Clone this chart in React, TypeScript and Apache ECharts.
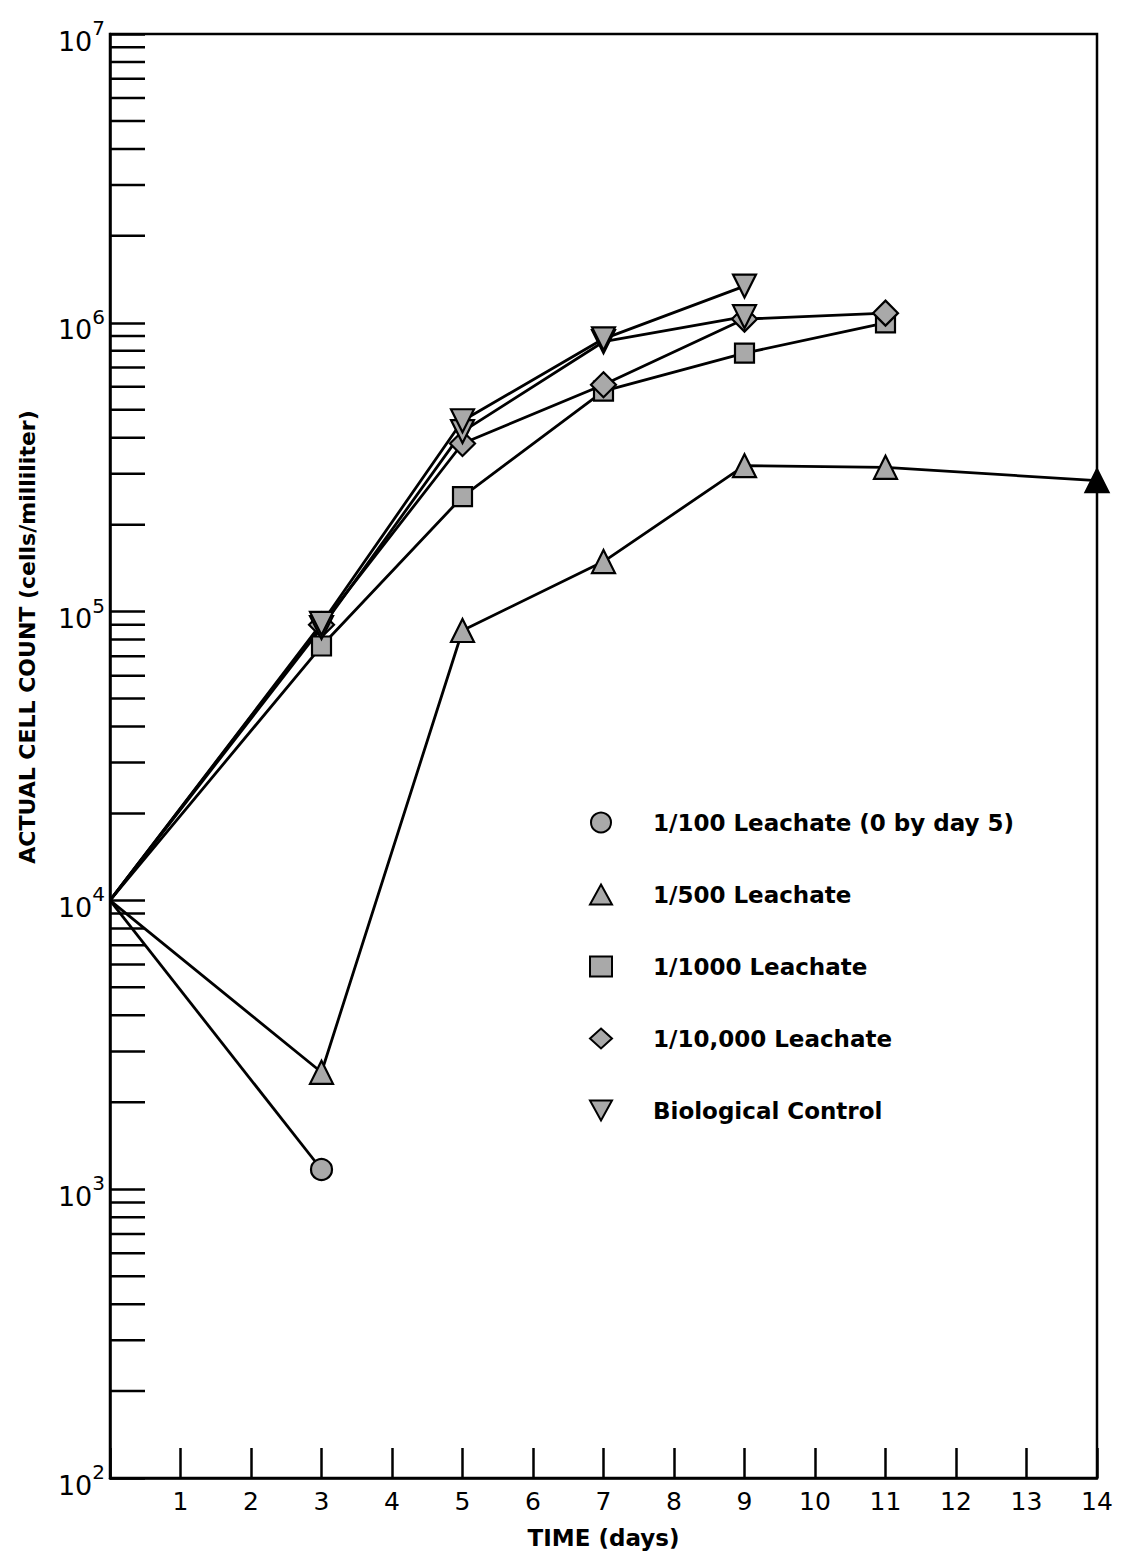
import React, { useEffect, useRef } from "react";
import * as echarts from "echarts";

// ---- data ----
const days100 = [0, 3];
const vals100 = [10000, 1170];

const days500 = [0, 3, 5, 7, 9, 11, 14];
const vals500 = [10000, 2540, 86000, 149000, 320000, 316000, 284000];

const days1000 = [0, 3, 5, 7, 9, 11];
const vals1000 = [10000, 76000, 250000, 580000, 785000, 1000000];

const days10000 = [0, 3, 5, 7, 9, 11];
const vals10000 = [10000, 90000, 382000, 610000, 1030000, 1080000];

const daysBio = [0, 3, 5, 7, 9];
const valsBio = [10000, 91000, 458000, 880000, 1340000];

const daysBio2 = [0, 3, 5, 7, 9];
const valsBio2 = [10000, 88000, 420000, 860000, 1050000];

const xTicks = [1, 2, 3, 4, 5, 6, 7, 8, 9, 10, 11, 12, 13, 14];
const decades = [100, 1000, 10000, 100000, 1000000];
const minorMultipliers = [2, 3, 4, 5, 6, 7, 8, 9];

const names = [
  "1/100 Leachate (0 by day 5)",
  "1/500 Leachate",
  "1/1000 Leachate",
  "1/10,000 Leachate",
  "Biological Control",
];

const FONT = "DejaVu Sans";
const INV_TRI = "path://M0,0 L10,0 L5,9 Z";

export default function App() {
  const ref = useRef<HTMLDivElement>(null);

  useEffect(() => {
    if (!ref.current) return;
    const chart = echarts.init(ref.current, null, { renderer: "svg" });

    const mk = (days: number[], vals: number[], lastBlack = false) =>
      days.map((d, i) => {
        const item: any = { value: [d, vals[i]] };
        if (i === 0) item.symbol = "none";
        if (lastBlack && i === days.length - 1) item.itemStyle = { color: "#000" };
        return item;
      });

    const markerStyle = { color: "#a9a9a9", borderColor: "#000", borderWidth: 2.2 };
    const lineStyle = { color: "#000", width: 2.8 };

    const base = (name: string, data: any[], symbol: string, size: number) => ({
      type: "line",
      name,
      data,
      symbol,
      symbolSize: size,
      itemStyle: markerStyle,
      lineStyle,
      z: 3,
    });

    const minorTicks: number[][] = [];
    decades.forEach((d) => minorMultipliers.forEach((m) => minorTicks.push([0, d * m])));

    chart.setOption({
      animation: false,
      backgroundColor: "#fff",
      grid: {
        left: 110,
        right: 25,
        top: 34,
        bottom: 80,
        show: true,
        borderColor: "#000",
        borderWidth: 2.5,
        backgroundColor: "transparent",
      },
      legend: {
        orient: "vertical",
        left: 584,
        top: 806,
        itemGap: 49,
        itemWidth: 22,
        itemHeight: 20,
        textStyle: {
          fontFamily: FONT,
          fontWeight: "bold",
          fontSize: 23,
          color: "#000",
          padding: [0, 0, 0, 36],
        },
        data: [
          { name: names[0], icon: "circle" },
          { name: names[1], icon: "triangle" },
          { name: names[2], icon: "rect" },
          { name: names[3], icon: "diamond" },
          { name: names[4], icon: INV_TRI },
        ],
        selectedMode: false,
      },
      xAxis: {
        type: "value",
        min: 0,
        max: 14,
        interval: 1,
        name: "TIME (days)",
        nameLocation: "middle",
        nameGap: 48,
        nameTextStyle: { fontFamily: FONT, fontWeight: "bold", fontSize: 23, color: "#000" },
        axisLine: { lineStyle: { color: "#000", width: 2.5 } },
        axisTick: { inside: true, length: 30, lineStyle: { color: "#000", width: 2.5 } },
        axisLabel: {
          fontFamily: FONT,
          fontSize: 25,
          color: "#000",
          margin: 11,
          formatter: (v: number) => (xTicks.includes(v) ? String(v) : ""),
        },
        splitLine: { show: false },
      },
      yAxis: {
        type: "log",
        logBase: 10,
        min: 100,
        max: 10000000,
        axisLine: { lineStyle: { color: "#000", width: 2.5 } },
        axisTick: { inside: true, length: 35, lineStyle: { color: "#000", width: 2.5 } },
        axisLabel: {
          margin: 5,
          color: "#000",
          formatter: (v: number) => `{b|10}{e|${Math.round(Math.log10(v))}}`,
          rich: {
            b: { fontFamily: FONT, fontSize: 27, color: "#000", padding: [14, 0, 0, 0] },
            e: { fontFamily: FONT, fontSize: 20, color: "#000", padding: [0, 0, 12, 0] },
          },
        },
        splitLine: { show: false },
      },
      graphic: [
        {
          type: "text",
          x: 27,
          y: 637,
          rotation: Math.PI / 2,
          style: {
            text: "ACTUAL CELL COUNT (cells/milliliter)",
            fontFamily: FONT,
            fontWeight: "bold",
            fontSize: 22,
            fill: "#000",
            align: "center",
            verticalAlign: "middle",
          },
        },
      ],
      series: [
        {
          type: "custom",
          name: "minor ticks",
          silent: true,
          clip: false,
          data: minorTicks,
          renderItem: (params: any, api: any) => {
            const p = api.coord([api.value(0), api.value(1)]);
            return {
              type: "line",
              shape: { x1: p[0], y1: p[1], x2: p[0] + 35, y2: p[1] },
              style: { stroke: "#000", lineWidth: 2.5 },
            };
          },
          z: 2,
        },
        base(names[0], mk(days100, vals100), "circle", 21),
        base(names[1], mk(days500, vals500, true), "triangle", 23),
        base(names[2], mk(days1000, vals1000), "rect", 19),
        base(names[3], mk(days10000, vals10000), "diamond", 25),
        base(names[4], mk(daysBio2, valsBio2), INV_TRI, 23),
        base(names[4], mk(daysBio, valsBio), INV_TRI, 23),
      ],
    });

    return () => chart.dispose();
  }, []);

  return (
    <div
      ref={ref}
      style={{ position: "fixed", left: 0, top: 0, width: 1122, height: 1558, background: "#fff" }}
    />
  );
}
